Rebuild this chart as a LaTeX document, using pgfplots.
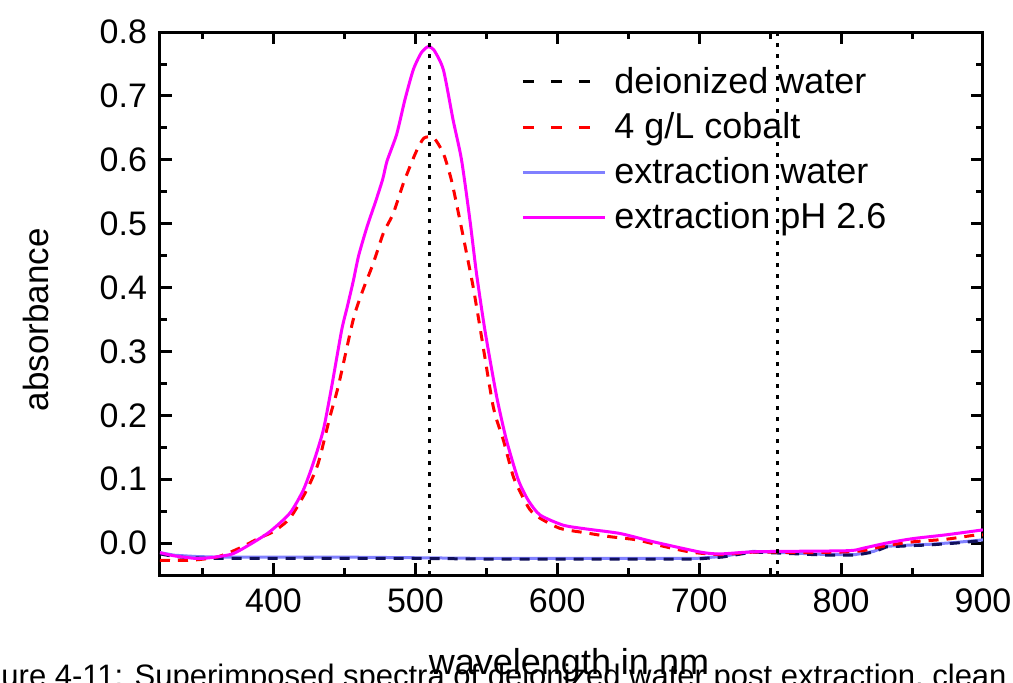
\documentclass[border=0pt]{standalone}
\usepackage{pgfplots}
\pgfplotsset{compat=1.18}
\usepackage{fontspec}
\setmainfont{Liberation Sans}
\definecolor{lblue}{HTML}{8080FF}
\definecolor{mag}{HTML}{FF00FF}
\definecolor{navyd}{HTML}{10105A}
\newcommand{\fs}{\fontsize{17}{20}\selectfont}
\newcommand{\fl}{\fontsize{18}{21}\selectfont}
\begin{document}
\begin{tikzpicture}
\begin{axis}[
  scale only axis, width=411.5pt, height=271.5pt,
  xmin=320, xmax=900, ymin=-0.05, ymax=0.8,
  axis line style={line width=1.5pt},
  every tick/.style={black, line width=1.5pt},
  tick align=inside,
  xtick={400,500,...,900}, minor xtick={350,450,...,850},
  ytick={0,0.1,...,0.8}, minor ytick={-0.05,0.05,0.15,...,0.75},
  major tick length=6pt, minor tick length=3.5pt,
  xtick pos=both, ytick pos=both,
  ticklabel style={font=\fs},
  yticklabel style={/pgf/number format/fixed, /pgf/number format/fixed zerofill, /pgf/number format/precision=1, /pgf/number format/assume math mode=true, xshift=-3pt},
  xticklabel style={/pgf/number format/assume math mode=true, yshift=-3.5pt},
  every axis x label/.style={at={(axis description cs:0.497,0)}, anchor=base, yshift=-49.5pt, font=\fl},
  every axis y label/.style={at={(axis description cs:-0.1507,0.47)}, anchor=center, rotate=90, font=\fontsize{17.5}{20}\selectfont},
  xlabel={wavelength in nm},
  ylabel={absorbance},
  legend cell align=left,
  legend style={draw=none, fill=none, font=\fl, at={(axis description cs:0.4386,0.943)}, anchor=north west, row sep=4pt, inner sep=0pt, /tikz/every odd column/.style={column sep=2pt}},
  legend image code/.code={\draw[#1] (0pt,0pt) -- (41pt,0pt);},
]
\addlegendimage{black, dash pattern=on 5.5pt off 8.5pt, line width=1.5pt}
\addlegendentry{deionized water}
\addlegendimage{red, dash pattern=on 5.5pt off 8.5pt, line width=1.5pt}
\addlegendentry{4 g/L cobalt}
\addlegendimage{lblue, line width=1.5pt}
\addlegendentry{extraction water}
\addlegendimage{mag, line width=1.5pt}
\addlegendentry{extraction pH 2.6}
% extraction water
\addplot[lblue, line width=1.5pt, forget plot] coordinates {
(320,-0.015) (330,-0.019) (345,-0.021) (360,-0.022) (400,-0.022) (450,-0.022) (500,-0.023) (550,-0.024) (600,-0.024) (650,-0.024) (698,-0.024) (716,-0.021) (738,-0.013) (760,-0.015) (790,-0.018) (810,-0.018) (823,-0.013) (832,-0.005) (850,-0.003) (862,-0.002) (881,0.001) (900,0.005)};
% deionized water
\addplot[navyd, dash pattern=on 5pt off 4pt, line width=1.5pt, forget plot] coordinates {
(320,-0.017) (330,-0.021) (340,-0.023) (360,-0.024) (400,-0.024) (450,-0.024) (500,-0.024) (550,-0.025) (600,-0.025) (650,-0.025) (698,-0.025) (716,-0.022) (738,-0.014) (760,-0.016) (790,-0.019) (810,-0.019) (823,-0.014) (832,-0.006) (850,-0.004) (862,-0.003) (881,0.0) (900,0.004)};
% 4 g/L cobalt
\addplot[red, dash pattern=on 5pt off 4pt, line width=1.5pt, smooth, tension=0.4, forget plot] coordinates {
(320,-0.027) (341,-0.027) (360,-0.022) (376,-0.008) (390,0.008) (400,0.018) (411.6,0.039) (423.4,0.083) (431.5,0.125) (439.8,0.198) (445.6,0.245) (453.9,0.328) (457.4,0.360) (463,0.396) (470.3,0.438) (477.4,0.485) (484.4,0.516) (491.5,0.563) (500,0.610) (506,0.634) (513,0.634) (519.7,0.610) (525.4,0.568) (531.3,0.506) (536,0.454) (540.7,0.401) (545.5,0.338) (554.9,0.213) (562,0.161) (569,0.104) (575,0.075) (580.8,0.052) (587.8,0.039) (601.9,0.023) (620,0.016) (637.1,0.010) (655.9,0.005) (674.7,-0.005) (693.7,-0.014) (715,-0.018) (740,-0.014) (770,-0.015) (800,-0.014) (815,-0.012) (832,-0.004) (850.7,0.002) (874,0.006) (893,0.012) (900,0.013)};
% extraction pH 2.6
\addplot[mag, line width=1.5pt, smooth, tension=0.4, forget plot] coordinates {
(320,-0.015) (330,-0.020) (345,-0.024) (355,-0.023) (371,-0.017) (385,0.000) (397.5,0.018) (411.6,0.047) (421,0.083) (428,0.125) (435.1,0.177) (441,0.245) (448,0.333) (452,0.370) (456.2,0.410) (460,0.450) (465.9,0.495) (472,0.535) (477,0.570) (480,0.598) (486.8,0.640) (492.6,0.694) (498.5,0.741) (504,0.767) (508.8,0.777) (513,0.772) (519.7,0.741) (526.6,0.662) (532.5,0.600) (538.4,0.506) (543,0.423) (549,0.333) (557.3,0.229) (564.2,0.161) (572.5,0.099) (579.5,0.067) (587.8,0.044) (604.2,0.028) (620.7,0.022) (644.2,0.015) (667.7,0.002) (700.5,-0.014) (714.6,-0.017) (740.7,-0.0135) (803.9,-0.012) (815.6,-0.008) (832,0.0) (850.7,0.007) (874.3,0.013) (897.8,0.020) (900,0.021)};
\addplot[black, line width=1.5pt, dash pattern=on 2pt off 3.5pt, forget plot] coordinates {(510,-0.05) (510,0.8)};
\addplot[black, line width=1.5pt, dash pattern=on 2pt off 3.5pt, forget plot] coordinates {(755,-0.05) (755,0.8)};
\end{axis}
\node[anchor=base west, inner sep=0pt, font=\fontsize{15.5}{18}\selectfont] at (-101pt,-55.5pt) {Figure 4-11: Superimposed spectra of deionized water post extraction, clean water and extraction at pH 2.6};
\pgfresetboundingbox
\path[use as bounding box] (-80pt,-53.5pt) rectangle (426.5pt,287.5pt);
\end{tikzpicture}
\end{document}
